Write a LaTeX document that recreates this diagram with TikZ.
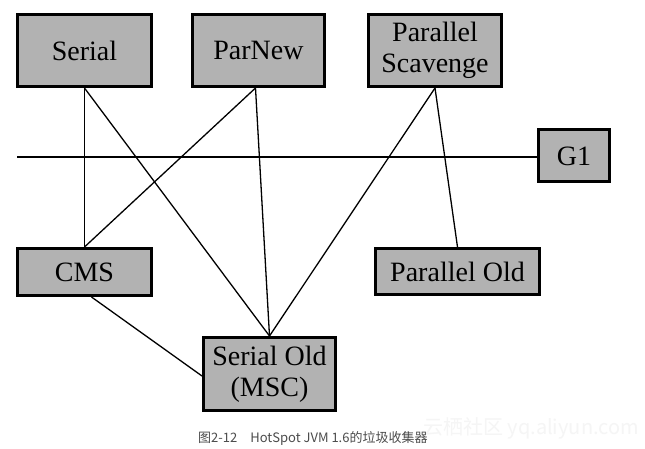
\documentclass[tikz,border=0pt]{standalone}
\usepackage{fontspec}
\setmainfont{Liberation Serif}
\newfontfamily\cjk{Noto Sans CJK SC}
\begin{document}
\begin{tikzpicture}[x=1pt,y=-1pt,
  gc/.style={draw=black,line width=3pt,fill=gray!60,inner sep=0pt,
    font=\fontsize{28}{31}\selectfont,align=center},
  link/.style={line width=1.3pt}]
\useasboundingbox[fill=white] (0,0) rectangle (645,449);
\node[gc,minimum width=134pt,minimum height=72pt] (serial) at (84.5,50.5) {Serial};
\node[gc,minimum width=132pt,minimum height=72pt] (parnew) at (258.5,50.5) {ParNew};
\node[gc,minimum width=133pt,minimum height=72pt] (ps) at (435,50.5) {Parallel\\Scavenge};
\node[gc,minimum width=71pt,minimum height=52pt] (g1) at (574,156) {G1};
\node[gc,minimum width=134pt,minimum height=47pt] (cms) at (84.5,272) {CMS};
\node[gc,minimum width=164pt,minimum height=46pt] (pold) at (457.5,271.5) {Parallel Old};
\node[gc,minimum width=132pt,minimum height=73pt] (sold) at (269.5,374) {Serial Old\\(MSC)};
\coordinate (left) at (17,157);
\draw[link] (left) -- (g1.west |- left);
\draw[link] (serial.south) -- (cms.north);
\draw[link] (serial.south) -- (sold.north);
\draw[link] ([xshift=-3pt]parnew.south) -- (cms.north);
\draw[link] ([xshift=-3pt]parnew.south) -- (sold.north);
\draw[link] (ps.south) -- (sold.north);
\draw[link] (ps.south) -- (pold.north);
\draw[link] ([xshift=7pt]cms.south) -- ([yshift=-2pt]sold.west);
\node[anchor=west,inner sep=0pt,text=gray!8,font=\cjk\fontsize{20}{20}\selectfont] (wm) at (423,428) {云栖社区 yq.aliyun.com};
\node[anchor=west,inner sep=0pt,text=black!70,font=\cjk\fontsize{13}{13}\selectfont] (cap) at (198,438) {图2-12\hspace{1em}HotSpot JVM 1.6的垃圾收集器};
\end{tikzpicture}
\end{document}
